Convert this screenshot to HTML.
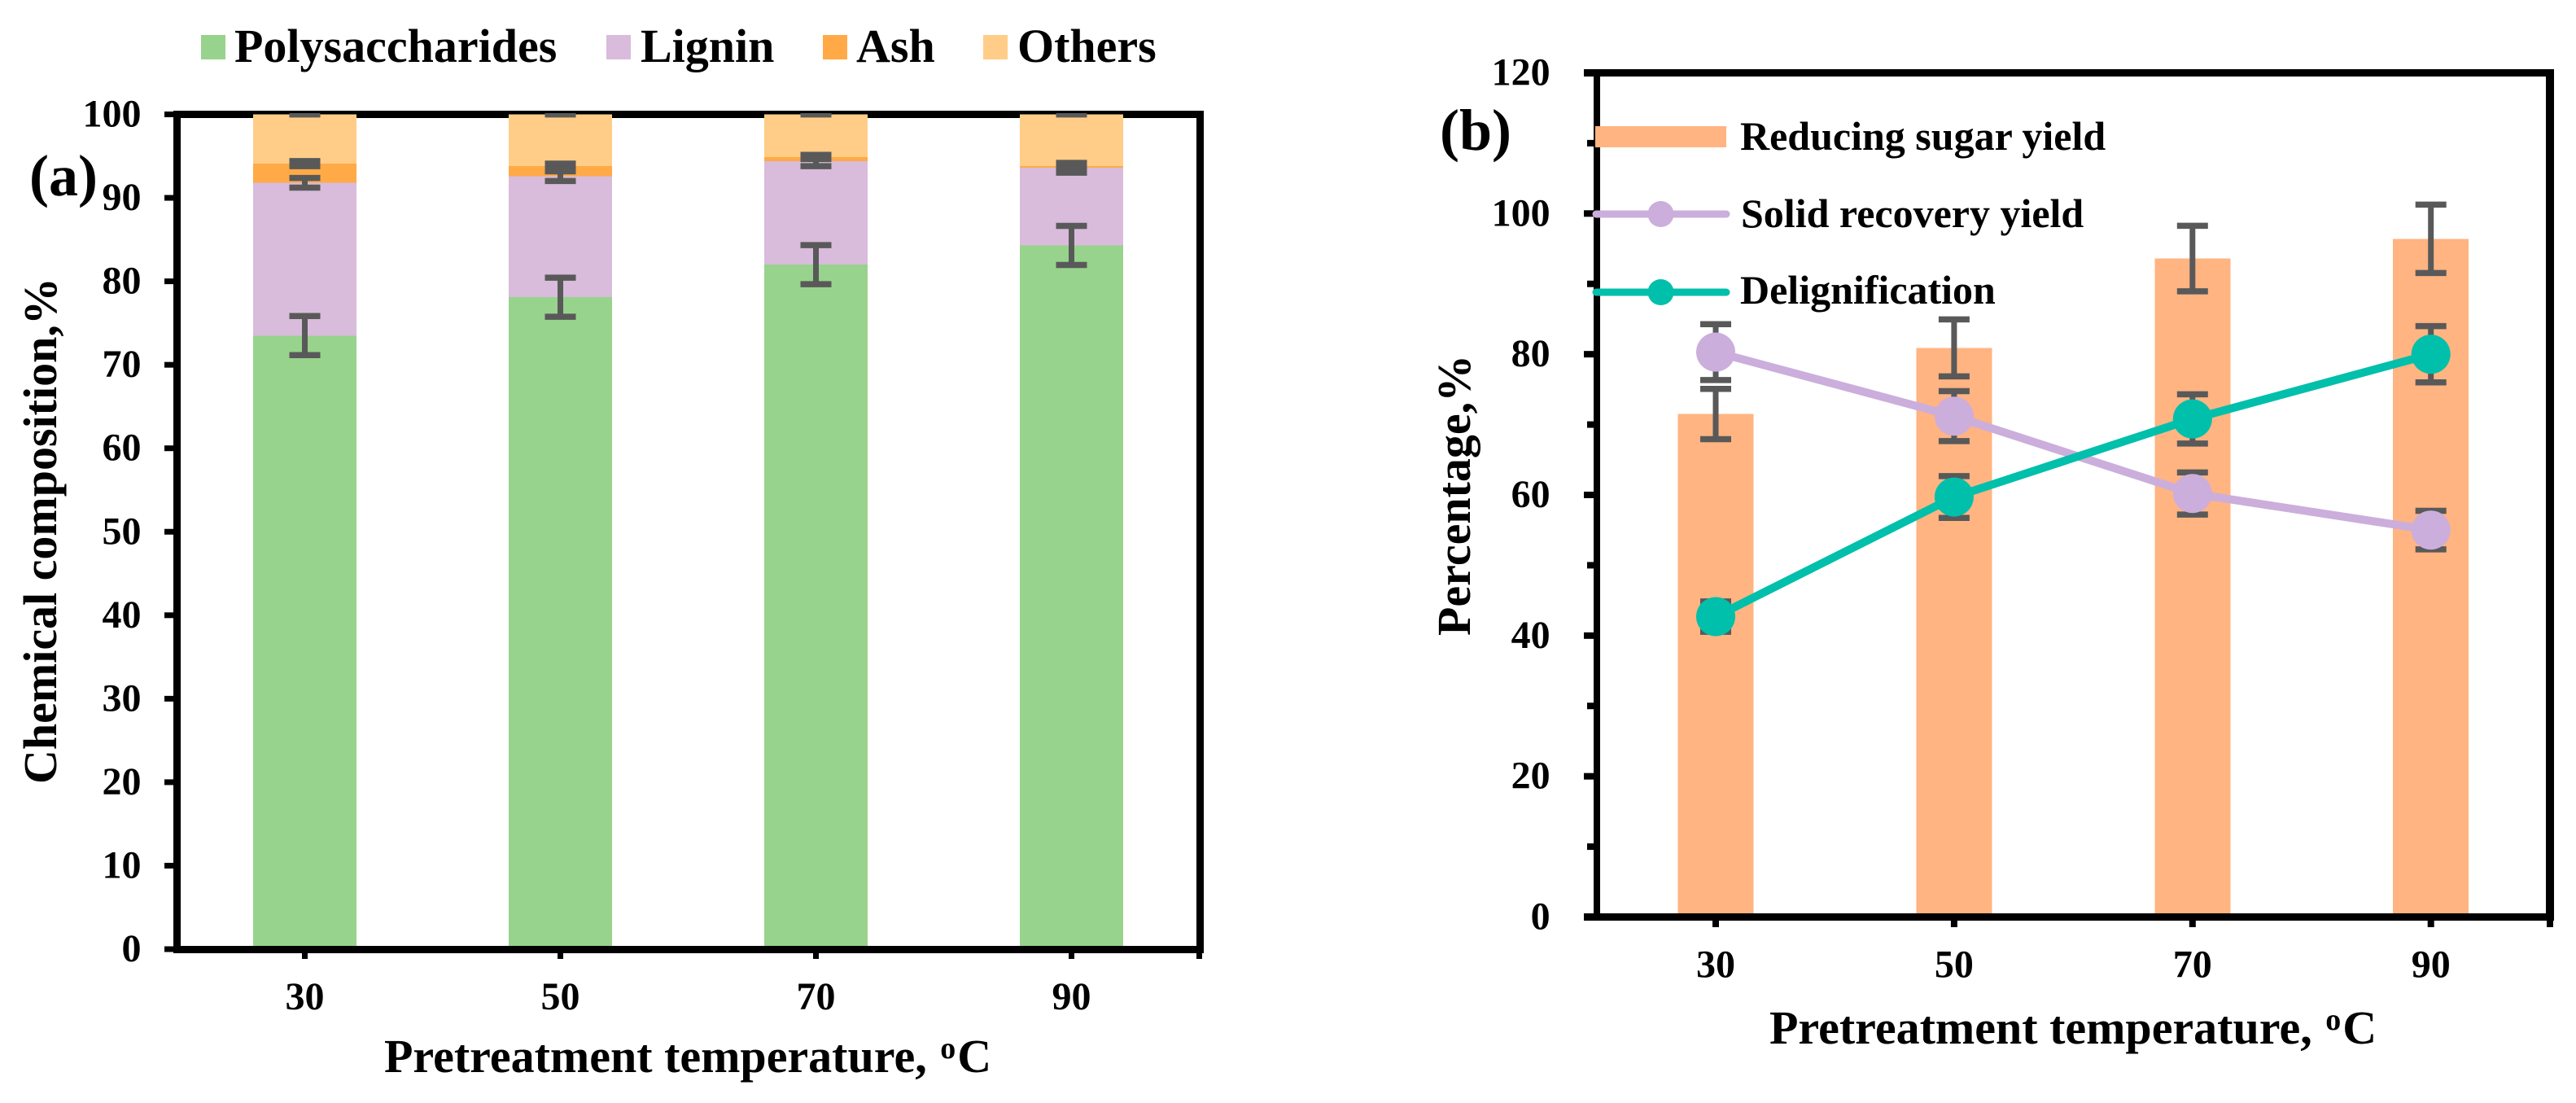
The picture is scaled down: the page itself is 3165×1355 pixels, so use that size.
<!DOCTYPE html>
<html lang="en">
<head>
<meta charset="utf-8">
<title>Chemical composition and yields versus pretreatment temperature</title>
<style>
html,body{margin:0;padding:0;background:#fff;}
svg{display:block;}
text{font-family:"Liberation Serif","Times New Roman",serif;font-weight:bold;fill:#000;}
.t48{font-size:48px;}
.t50{font-size:50px;}
.t58{font-size:58px;}
.t72{font-size:72px;}
</style>
</head>
<body>
<svg id="chart" xmlns="http://www.w3.org/2000/svg" width="3165" height="1355" viewBox="0 0 3165 1355">
  <rect x="0" y="0" width="3165" height="1355" fill="#fff"/>

  <!-- Panel A -->
  <g id="panel-a">
    <g fill="#000">
      <rect x="213" y="136" width="1266" height="9"/>
      <rect x="213" y="136" width="9" height="1035"/>
      <rect x="1470" y="136" width="9" height="1035"/>
    </g>
    <g id="bars-a"></g>
    <rect x="216" y="1162" width="1263" height="9" fill="#000"/>
    <g id="ticks-a"></g>
    <clipPath id="clip-err-a"><rect x="200" y="139" width="1300" height="1040"/></clipPath>
    <g id="errors-a" clip-path="url(#clip-err-a)"></g>

    <text class="t72" x="36" y="240">(a)</text>
    <text class="t58" transform="translate(69,963) rotate(-90)">Chemical composition,%</text>
    <text class="t58" x="472" y="1317">Pretreatment temperature, <tspan font-size="38" dx="2" dy="-17">o</tspan><tspan dx="2" dy="17">C</tspan></text>

    <g>
      <g>
        <rect x="247" y="43" width="30" height="30" fill="#97D38C"/>
        <text class="t58" x="288" y="76">Polysaccharides</text>
      </g>
      <g>
        <rect x="745" y="43" width="30" height="30" fill="#D9BBDC"/>
        <text class="t58" x="787" y="76">Lignin</text>
      </g>
      <g>
        <rect x="1011" y="43" width="30" height="30" fill="#FFAA46"/>
        <text class="t58" x="1052" y="76">Ash</text>
      </g>
      <g>
        <rect x="1208" y="43" width="30" height="30" fill="#FFCD88"/>
        <text class="t58" x="1250" y="76">Others</text>
      </g>
    </g>
  </g>

  <!-- Panel B -->
  <g id="panel-b">
    <g fill="#000">
      <rect x="1946" y="85" width="1192" height="9"/>
      <rect x="1958" y="85" width="8" height="1046"/>
      <rect x="3128" y="85" width="10" height="1046"/>
    </g>
    <g id="ticks-b"></g>
    <g id="bars-b"></g>
    <rect x="1946" y="1122" width="1192" height="9" fill="#000"/>
    <g id="errors-b"></g>
    <g id="lines-b"></g>

    <text class="t72" x="1769" y="184">(b)</text>
    <text class="t58" transform="translate(1806,781) rotate(-90)">Percentage,%</text>
    <text class="t58" x="2174" y="1282">Pretreatment temperature, <tspan font-size="38" dx="2" dy="-17">o</tspan><tspan dx="2" dy="17">C</tspan></text>

    <g>
      <g>
        <rect x="1960" y="155" width="161" height="26" fill="#FFB482"/>
        <text class="t50" x="2138" y="184">Reducing sugar yield</text>
      </g>
      <g>
        <line x1="1961" y1="263" x2="2121" y2="263" stroke="#CBAEDC" stroke-width="9" stroke-linecap="round"/>
        <circle cx="2040.5" cy="263" r="16" fill="#CBAEDC"/>
        <text class="t50" x="2139" y="279">Solid recovery yield</text>
      </g>
      <g>
        <line x1="1961" y1="359" x2="2121" y2="359" stroke="#00BFAB" stroke-width="9" stroke-linecap="round"/>
        <circle cx="2040.5" cy="359" r="16" fill="#00BFAB"/>
        <text class="t50" x="2138" y="373">Delignification</text>
      </g>
    </g>
  </g>
</svg>

<script>
// ---- Panel A data (percent) ----
const categoriesA = ['30', '50', '70', '90'];
const polysaccharides = [73.5, 78.1, 82.0, 84.3];
const lignin = [18.3, 14.5, 12.4, 9.3];
const ash = [2.3, 1.2, 0.5, 0.2];
const others = [5.9, 6.2, 5.1, 6.2];
const polysaccharidesErr = [2.34, 2.34, 2.34, 2.34];
const ligninErr = [0.58, 0.58, 0.6, 0.58];
const ashErr = [0.3, 0.3, 0.25, 0.3];
const othersErr = [0, 0, 0, 0];
const yTicksA = [0, 10, 20, 30, 40, 50, 60, 70, 80, 90, 100];

// ---- Panel B data (percent) ----
const categoriesB = ['30', '50', '70', '90'];
const reducingSugarYield = [71.5, 80.9, 93.6, 96.4];
const reducingSugarErr = [3.57, 4.05, 4.66, 4.86];
const solidRecoveryYield = [80.3, 71.2, 60.2, 55.0];
const solidRecoveryErr = [3.97, 3.55, 3.0, 2.74];
const delignification = [42.7, 59.7, 70.8, 80.0];
const delignificationErr = [2.16, 2.97, 3.5, 4.0];
const yTicksB = [0, 20, 40, 60, 80, 100, 120];
const yMinorTicksB = [10, 30, 50, 70, 90, 110];

const NS = 'http://www.w3.org/2000/svg';

// axis functions
function xA(i) { return 374.5 + 314 * i; }
function yA(v) { return 1166 - 10.255 * v; }
function xB(i) { return 2108 + 292.9 * i; }
function yB(v) { return 1126.5 - 8.642 * v; }

function shape(parent, tag, props) {
  const el = document.createElementNS(NS, tag);
  for (const k in props) el.setAttribute(k, props[k]);
  parent.appendChild(el);
  return el;
}

function errorBar(parent, x, yUpper, yLower, label) {
  const grey = '#595959';
  const stem = shape(parent, 'line', { x1: x, x2: x, y1: yUpper, y2: yLower, stroke: grey, 'stroke-width': 7 });
  
  
  const top = shape(parent, 'line', { x1: x - 19, x2: x + 19, y1: yUpper, y2: yUpper, stroke: grey, 'stroke-width': 7.5 });
  
  
  const bot = shape(parent, 'line', { x1: x - 19, x2: x + 19, y1: yLower, y2: yLower, stroke: grey, 'stroke-width': 7.5 });
  
  
}

function label(parent, x, y, anchor, str, nameText) {
  const t = shape(parent, 'text', { x: x, y: y, 'text-anchor': anchor, class: 't48' });
  t.textContent = str;
  
  
  return t;
}

// ---- Draw panel A ----
const barsA = document.getElementById('bars-a');
const errorsA = document.getElementById('errors-a');
const ticksA = document.getElementById('ticks-a');
const stackNames = ['polysaccharides', 'lignin', 'ash', 'others'];
const stackColors = ['#97D38C', '#D9BBDC', '#FFAA46', '#FFCD88'];
const stackValues = [polysaccharides, lignin, ash, others];
const stackErrors = [polysaccharidesErr, ligninErr, ashErr, othersErr];
const barWidthA = 127;

categoriesA.forEach(function (cat, i) {
  let cum = 0;
  stackValues.forEach(function (series, s) {
    const y0 = yA(cum);
    const y1 = yA(cum + series[i]);
    const seg = shape(barsA, 'rect', { x: xA(i) - barWidthA / 2, y: y1, width: barWidthA, height: y0 - y1, fill: stackColors[s], 'shape-rendering': 'crispEdges' });
    
    
    cum += series[i];
  });
});
categoriesA.forEach(function (cat, i) {
  let cum = 0;
  stackValues.forEach(function (series, s) {
    cum += series[i];
    errorBar(errorsA, xA(i), yA(cum + stackErrors[s][i]), yA(cum - stackErrors[s][i]), stackNames[s] + '-' + cat);
  });
  const tick = shape(ticksA, 'rect', { x: xA(i) - 3.5, y: 1166, width: 7, height: 12, fill: '#000' });
  
  
  label(ticksA, xA(i), 1240, 'middle', cat, 'panel-a-x-tick-label-' + cat);
});
const endTickA = shape(ticksA, 'rect', { x: xA(3) + 157 - 3.5, y: 1166, width: 7, height: 12, fill: '#000' });


yTicksA.forEach(function (v) {
  const tick = shape(ticksA, 'rect', { x: 202, y: yA(v) - 3.5, width: 14, height: 7, fill: '#000' });
  
  
  label(ticksA, 173.5, yA(v) + 15, 'end', String(v), 'panel-a-y-tick-label-' + v);
});

// ---- Draw panel B ----
const barsB = document.getElementById('bars-b');
const errorsB = document.getElementById('errors-b');
const linesB = document.getElementById('lines-b');
const ticksB = document.getElementById('ticks-b');
const barWidthB = 93;

yTicksB.forEach(function (v) {
  const tick = shape(ticksB, 'rect', { x: 1946, y: yB(v) - 4, width: 14, height: 8, fill: '#000' });
  
  
  label(ticksB, 1904.6, yB(v) + 15, 'end', String(v), 'panel-b-y-tick-label-' + v);
});
yMinorTicksB.forEach(function (v) {
  const tick = shape(ticksB, 'rect', { x: 1950, y: yB(v) - 4, width: 10, height: 8, fill: '#000' });
  
  
});
categoriesB.forEach(function (cat, i) {
  const bar = shape(barsB, 'rect', { x: xB(i) - barWidthB / 2, y: yB(reducingSugarYield[i]), width: barWidthB, height: yB(0) - yB(reducingSugarYield[i]), fill: '#FFB482', 'shape-rendering': 'crispEdges' });
  
  
  errorBar(errorsB, xB(i), yB(reducingSugarYield[i] + reducingSugarErr[i]), yB(reducingSugarYield[i] - reducingSugarErr[i]), 'reducing-sugar-' + cat);
  errorBar(errorsB, xB(i), yB(solidRecoveryYield[i] + solidRecoveryErr[i]), yB(solidRecoveryYield[i] - solidRecoveryErr[i]), 'solid-recovery-' + cat);
  errorBar(errorsB, xB(i), yB(delignification[i] + delignificationErr[i]), yB(delignification[i] - delignificationErr[i]), 'delignification-' + cat);
  const tick = shape(ticksB, 'rect', { x: xB(i) - 4, y: 1126, width: 8, height: 13, fill: '#000' });
  
  
  label(ticksB, xB(i), 1200.5, 'middle', cat, 'panel-b-x-tick-label-' + cat);
});
const endTickB = shape(ticksB, 'rect', { x: 3129, y: 1126, width: 8, height: 13, fill: '#000' });



function drawSeries(values, color, seriesName) {
  const pts = values.map(function (v, i) { return xB(i) + ',' + yB(v); }).join(' ');
  const line = shape(linesB, 'polyline', { points: pts, fill: 'none', stroke: color, 'stroke-width': 10, 'stroke-linejoin': 'round' });
  
  
  values.forEach(function (v, i) {
    const dot = shape(linesB, 'circle', { cx: xB(i), cy: yB(v), r: 24, fill: color });
    
    
  });
}
drawSeries(solidRecoveryYield, '#CBAEDC', 'solid-recovery-yield');
drawSeries(delignification, '#00BFAB', 'delignification');
</script>
</body>
</html>
